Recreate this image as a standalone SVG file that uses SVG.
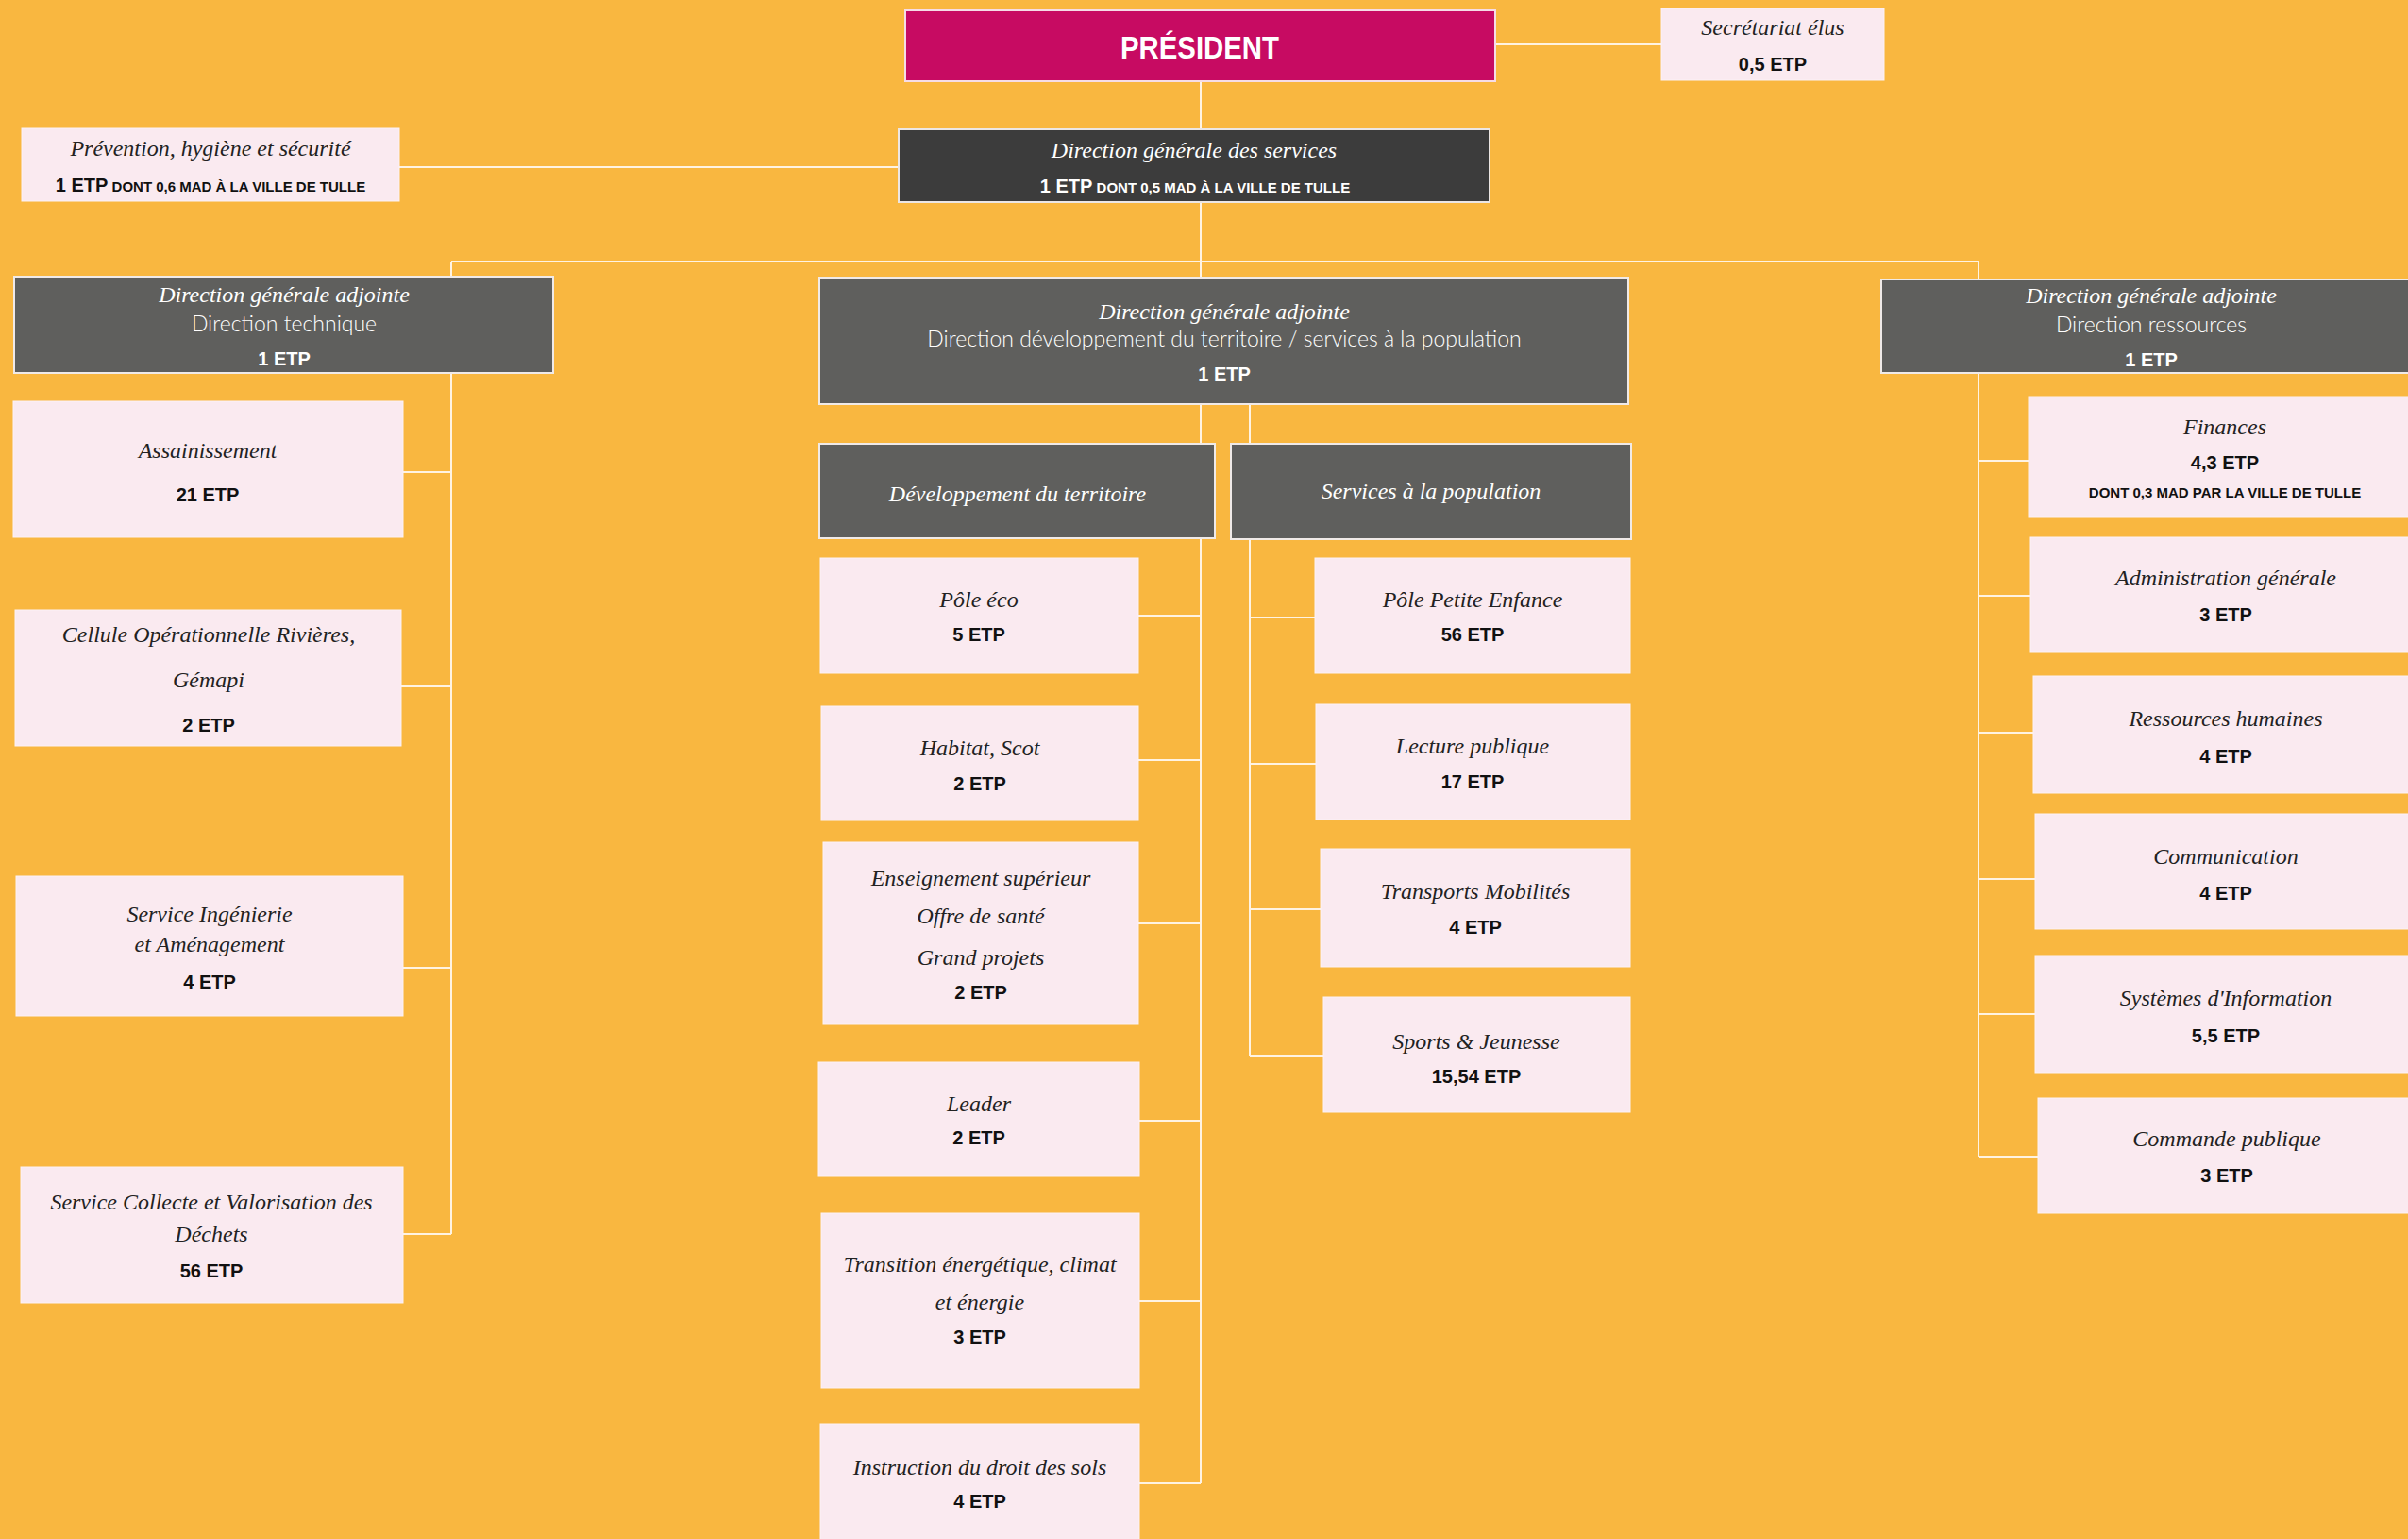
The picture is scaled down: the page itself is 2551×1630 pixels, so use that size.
<svg xmlns="http://www.w3.org/2000/svg" width="2551" height="1630" viewBox="0 0 2551 1630">
<style>
.pink{fill:#FAEAF0;stroke:#FCF2F6;stroke-width:1}
.dark{fill:#5F5F5D;stroke:#F0EAE8;stroke-width:2}
.dgs{fill:#3C3C3C;stroke:#ECE6E4;stroke-width:2}
.pres{fill:#C70B62;stroke:#F6DCE6;stroke-width:2}
.s{font-family:"Liberation Serif",serif;font-style:italic;font-size:24px;fill:#222;text-anchor:middle}
.e{font-family:"Liberation Sans",Arial,sans-serif;font-weight:bold;font-size:20px;fill:#111;text-anchor:middle}
.sc{font-size:15px}
.l{font-family:Lato,"Liberation Sans",sans-serif;font-weight:300;font-size:23px;fill:#FFFFFF;text-anchor:middle}
.w{fill:#FFFFFF}
.c{stroke:#FFF3E2;stroke-width:2;fill:none}
</style>
<rect x="0" y="0" width="2551" height="1630" fill="#F9B740"/>
<g id="connectors" class="c">
<path d="M1272,86 V1571"/>
<path d="M1584,47 H1760"/>
<path d="M423,177 H952"/>
<path d="M478,277 H2096"/>
<path d="M478,277 V1307"/>
<path d="M2096,277 V1225"/>
<path d="M1324,427 V1118"/>
<path d="M427,500 H478 M425,727 H478 M427,1025 H478 M427,1307 H478"/>
<path d="M1206,652 H1272 M1206,805 H1272 M1206,978 H1272 M1207,1187 H1272 M1207,1378 H1272 M1207,1571 H1272"/>
<path d="M1324,654 H1393 M1324,809 H1394 M1324,963 H1399 M1324,1118 H1402"/>
<path d="M2096,488 H2149 M2096,631 H2151 M2096,776 H2154 M2096,931 H2156 M2096,1074 H2156 M2096,1225 H2159"/>
</g>
<g id="president">
<rect class="pres" x="959" y="11" width="625" height="75"/>
<text x="1271" y="62" font-family="Liberation Sans, Arial, sans-serif" font-weight="bold" font-size="34" fill="#FFFFFF" text-anchor="middle" textLength="168" lengthAdjust="spacingAndGlyphs">PRÉSIDENT</text>
</g>
<g id="secretariat">
<rect class="pink" x="1760" y="9" width="236" height="76"/>
<text class="s" x="1878" y="37">Secrétariat élus</text>
<text class="e" x="1878" y="75">0,5 ETP</text>
</g>
<g id="dgs">
<rect class="dgs" x="952" y="137" width="626" height="77"/>
<text class="s w" x="1265" y="167">Direction générale des services</text>
<text class="e w" x="1266" y="204">1 ETP<tspan class="sc"> DONT 0,5 MAD À LA VILLE DE TULLE</tspan></text>
</g>
<g id="prevention">
<rect class="pink" x="23" y="136" width="400" height="77"/>
<text class="s" x="223" y="165">Prévention, hygiène et sécurité</text>
<text class="e" x="223" y="203">1 ETP<tspan class="sc"> DONT 0,6 MAD À LA VILLE DE TULLE</tspan></text>
</g>
<g id="dga-technique">
<rect class="dark" x="15" y="293" width="571" height="102"/>
<text class="s w" x="301" y="320">Direction générale adjointe</text>
<text class="l" x="301" y="351">Direction technique</text>
<text class="e w" x="301" y="387">1 ETP</text>
</g>
<g id="dga-developpement">
<rect class="dark" x="868" y="294" width="857" height="134"/>
<text class="s w" x="1297" y="338">Direction générale adjointe</text>
<text class="l" x="1297" y="367">Direction développement du territoire / services à la population</text>
<text class="e w" x="1297" y="403">1 ETP</text>
</g>
<g id="dga-ressources">
<rect class="dark" x="1993" y="296" width="570" height="99"/>
<text class="s w" x="2279" y="321">Direction générale adjointe</text>
<text class="l" x="2279" y="352">Direction ressources</text>
<text class="e w" x="2279" y="388">1 ETP</text>
</g>
<g id="developpement-territoire">
<rect class="dark" x="868" y="470" width="419" height="100"/>
<text class="s w" x="1078" y="531">Développement du territoire</text>
</g>
<g id="services-population">
<rect class="dark" x="1304" y="470" width="424" height="101"/>
<text class="s w" x="1516" y="528">Services à la population</text>
</g>
<g id="assainissement">
<rect class="pink" x="14" y="425" width="413" height="144"/>
<text class="s" x="220" y="485">Assainissement</text>
<text class="e" x="220" y="531">21 ETP</text>
</g>
<g id="cellule-rivieres">
<rect class="pink" x="16" y="646" width="409" height="144"/>
<text class="s" x="221" y="680">Cellule Opérationnelle Rivières,</text>
<text class="s" x="221" y="728">Gémapi</text>
<text class="e" x="221" y="775">2 ETP</text>
</g>
<g id="ingenierie">
<rect class="pink" x="17" y="928" width="410" height="148"/>
<text class="s" x="222" y="976">Service Ingénierie</text>
<text class="s" x="222" y="1008">et Aménagement</text>
<text class="e" x="222" y="1047">4 ETP</text>
</g>
<g id="collecte-dechets">
<rect class="pink" x="22" y="1236" width="405" height="144"/>
<text class="s" x="224" y="1281">Service Collecte et Valorisation des</text>
<text class="s" x="224" y="1315">Déchets</text>
<text class="e" x="224" y="1353">56 ETP</text>
</g>
<g id="pole-eco">
<rect class="pink" x="869" y="591" width="337" height="122"/>
<text class="s" x="1037" y="643">Pôle éco</text>
<text class="e" x="1037" y="679">5 ETP</text>
</g>
<g id="habitat-scot">
<rect class="pink" x="870" y="748" width="336" height="121"/>
<text class="s" x="1038" y="800">Habitat, Scot</text>
<text class="e" x="1038" y="837">2 ETP</text>
</g>
<g id="enseignement">
<rect class="pink" x="872" y="892" width="334" height="193"/>
<text class="s" x="1039" y="938">Enseignement supérieur</text>
<text class="s" x="1039" y="978">Offre de santé</text>
<text class="s" x="1039" y="1022">Grand projets</text>
<text class="e" x="1039" y="1058">2 ETP</text>
</g>
<g id="leader">
<rect class="pink" x="867" y="1125" width="340" height="121"/>
<text class="s" x="1037" y="1177">Leader</text>
<text class="e" x="1037" y="1212">2 ETP</text>
</g>
<g id="transition">
<rect class="pink" x="870" y="1285" width="337" height="185"/>
<text class="s" x="1038" y="1347">Transition énergétique, climat</text>
<text class="s" x="1038" y="1387">et énergie</text>
<text class="e" x="1038" y="1423">3 ETP</text>
</g>
<g id="instruction-sols">
<rect class="pink" x="869" y="1508" width="338" height="130"/>
<text class="s" x="1038" y="1562">Instruction du droit des sols</text>
<text class="e" x="1038" y="1597">4 ETP</text>
</g>
<g id="petite-enfance">
<rect class="pink" x="1393" y="591" width="334" height="122"/>
<text class="s" x="1560" y="643">Pôle Petite Enfance</text>
<text class="e" x="1560" y="679">56 ETP</text>
</g>
<g id="lecture-publique">
<rect class="pink" x="1394" y="746" width="333" height="122"/>
<text class="s" x="1560" y="798">Lecture publique</text>
<text class="e" x="1560" y="835">17 ETP</text>
</g>
<g id="transports">
<rect class="pink" x="1399" y="899" width="328" height="125"/>
<text class="s" x="1563" y="952">Transports Mobilités</text>
<text class="e" x="1563" y="989">4 ETP</text>
</g>
<g id="sports-jeunesse">
<rect class="pink" x="1402" y="1056" width="325" height="122"/>
<text class="s" x="1564" y="1111">Sports &amp; Jeunesse</text>
<text class="e" x="1564" y="1147">15,54 ETP</text>
</g>
<g id="finances">
<rect class="pink" x="2149" y="420" width="412" height="128"/>
<text class="s" x="2357" y="460">Finances</text>
<text class="e" x="2357" y="497">4,3 ETP</text>
<text class="e sc" x="2357" y="527">DONT 0,3 MAD PAR LA VILLE DE TULLE</text>
</g>
<g id="administration">
<rect class="pink" x="2151" y="569" width="410" height="122"/>
<text class="s" x="2358" y="620">Administration générale</text>
<text class="e" x="2358" y="658">3 ETP</text>
</g>
<g id="ressources-humaines">
<rect class="pink" x="2154" y="716" width="407" height="124"/>
<text class="s" x="2358" y="769">Ressources humaines</text>
<text class="e" x="2358" y="808">4 ETP</text>
</g>
<g id="communication">
<rect class="pink" x="2156" y="862" width="405" height="122"/>
<text class="s" x="2358" y="915">Communication</text>
<text class="e" x="2358" y="953">4 ETP</text>
</g>
<g id="systemes-information">
<rect class="pink" x="2156" y="1012" width="405" height="124"/>
<text class="s" x="2358" y="1065">Systèmes d'Information</text>
<text class="e" x="2358" y="1104">5,5 ETP</text>
</g>
<g id="commande-publique">
<rect class="pink" x="2159" y="1163" width="402" height="122"/>
<text class="s" x="2359" y="1214">Commande publique</text>
<text class="e" x="2359" y="1252">3 ETP</text>
</g>
</svg>
